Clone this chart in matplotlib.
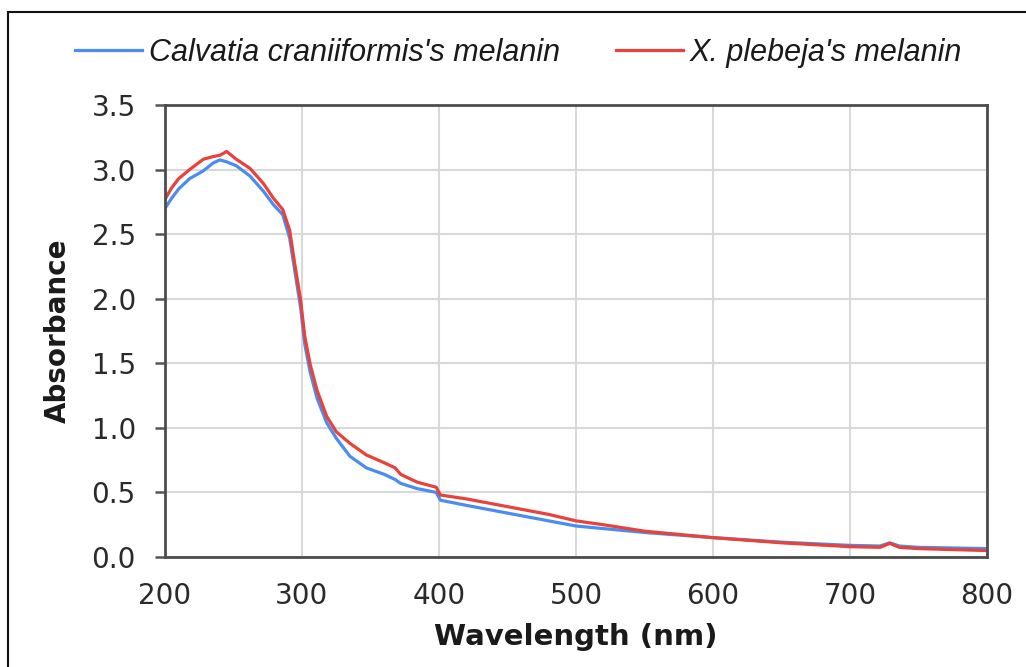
import matplotlib.pyplot as plt
from matplotlib.patches import Rectangle

# wavelengths (nm)
wavelength = [200, 205, 210, 218, 228, 235, 240, 245, 252, 262, 272, 279, 286, 291,
              295, 299, 302, 306, 311, 318, 325, 335, 347, 360, 368, 372, 384, 398,
              401, 420, 450, 480, 500, 520, 550, 600, 650, 700, 722, 729, 736, 750, 800]

calvatia = [2.70, 2.78, 2.85, 2.93, 2.99, 3.05, 3.075, 3.06, 3.03, 2.95, 2.83, 2.73, 2.65, 2.47,
            2.20, 1.93, 1.65, 1.43, 1.23, 1.04, 0.92, 0.78, 0.69, 0.64, 0.60, 0.57, 0.53, 0.50,
            0.44, 0.40, 0.34, 0.28, 0.24, 0.22, 0.19, 0.15, 0.115, 0.09, 0.085, 0.11, 0.085, 0.075, 0.065]

plebeja = [2.77, 2.86, 2.93, 3.00, 3.08, 3.10, 3.11, 3.14, 3.08, 3.01, 2.89, 2.78, 2.69, 2.53,
           2.25, 1.99, 1.71, 1.49, 1.29, 1.09, 0.97, 0.88, 0.79, 0.73, 0.69, 0.64, 0.58, 0.54,
           0.48, 0.45, 0.39, 0.33, 0.28, 0.25, 0.20, 0.15, 0.11, 0.08, 0.075, 0.105, 0.075, 0.065, 0.05]

x_ticks = [200, 300, 400, 500, 600, 700, 800]
y_ticks = [0.0, 0.5, 1.0, 1.5, 2.0, 2.5, 3.0, 3.5]

fig = plt.figure(figsize=(10.26, 6.67), dpi=100)
ax = fig.add_axes([0.1608, 0.1649, 0.8012, 0.6777])

# outer frame, cut off on the right and bottom like the source image
fig.patches.append(Rectangle((0.008, -0.1), 1.2, 1.082, transform=fig.transFigure,
                             fill=False, edgecolor='#111111', linewidth=1.5))

ax.plot(wavelength, calvatia, color='#4a8cf0', linewidth=2.3,
        label="Calvatia craniiformis's melanin", solid_joinstyle='round')
ax.plot(wavelength, plebeja, color='#e8423a', linewidth=2.3,
        label="X. plebeja's melanin", solid_joinstyle='round')

ax.set_xlim(200, 800)
ax.set_ylim(0, 3.5)
ax.set_xticks(x_ticks)
ax.set_yticks(y_ticks)
ax.set_yticklabels([f"{v:.1f}" for v in y_ticks])
ax.tick_params(axis='x', length=0, pad=18, labelsize=20, colors='#2a2a2a')
ax.tick_params(axis='y', length=7, width=1.8, color='#555555', pad=14,
               labelsize=20, labelcolor='#2a2a2a')
ax.grid(True, color='#d9d9d9', linewidth=1.5)
ax.set_axisbelow(True)
for s in ax.spines.values():
    s.set_color('#4d4d4d')
    s.set_linewidth(2.0)

ax.set_xlabel("Wavelength (nm)", fontsize=21, fontweight='bold', labelpad=9, color='#1a1a1a')
ax.set_ylabel("Absorbance", fontsize=20, fontweight='bold', labelpad=14, color='#1a1a1a')

leg = fig.legend(loc='center', bbox_to_anchor=(0.5054, 0.921), ncol=2, frameon=False,
                 prop={'family': 'Liberation Sans', 'style': 'italic', 'size': 22},
                 handlelength=2.2, columnspacing=1.85, handletextpad=0.2,
                 labelcolor='#1a1a1a')

plt.savefig('out.png', dpi=100)
